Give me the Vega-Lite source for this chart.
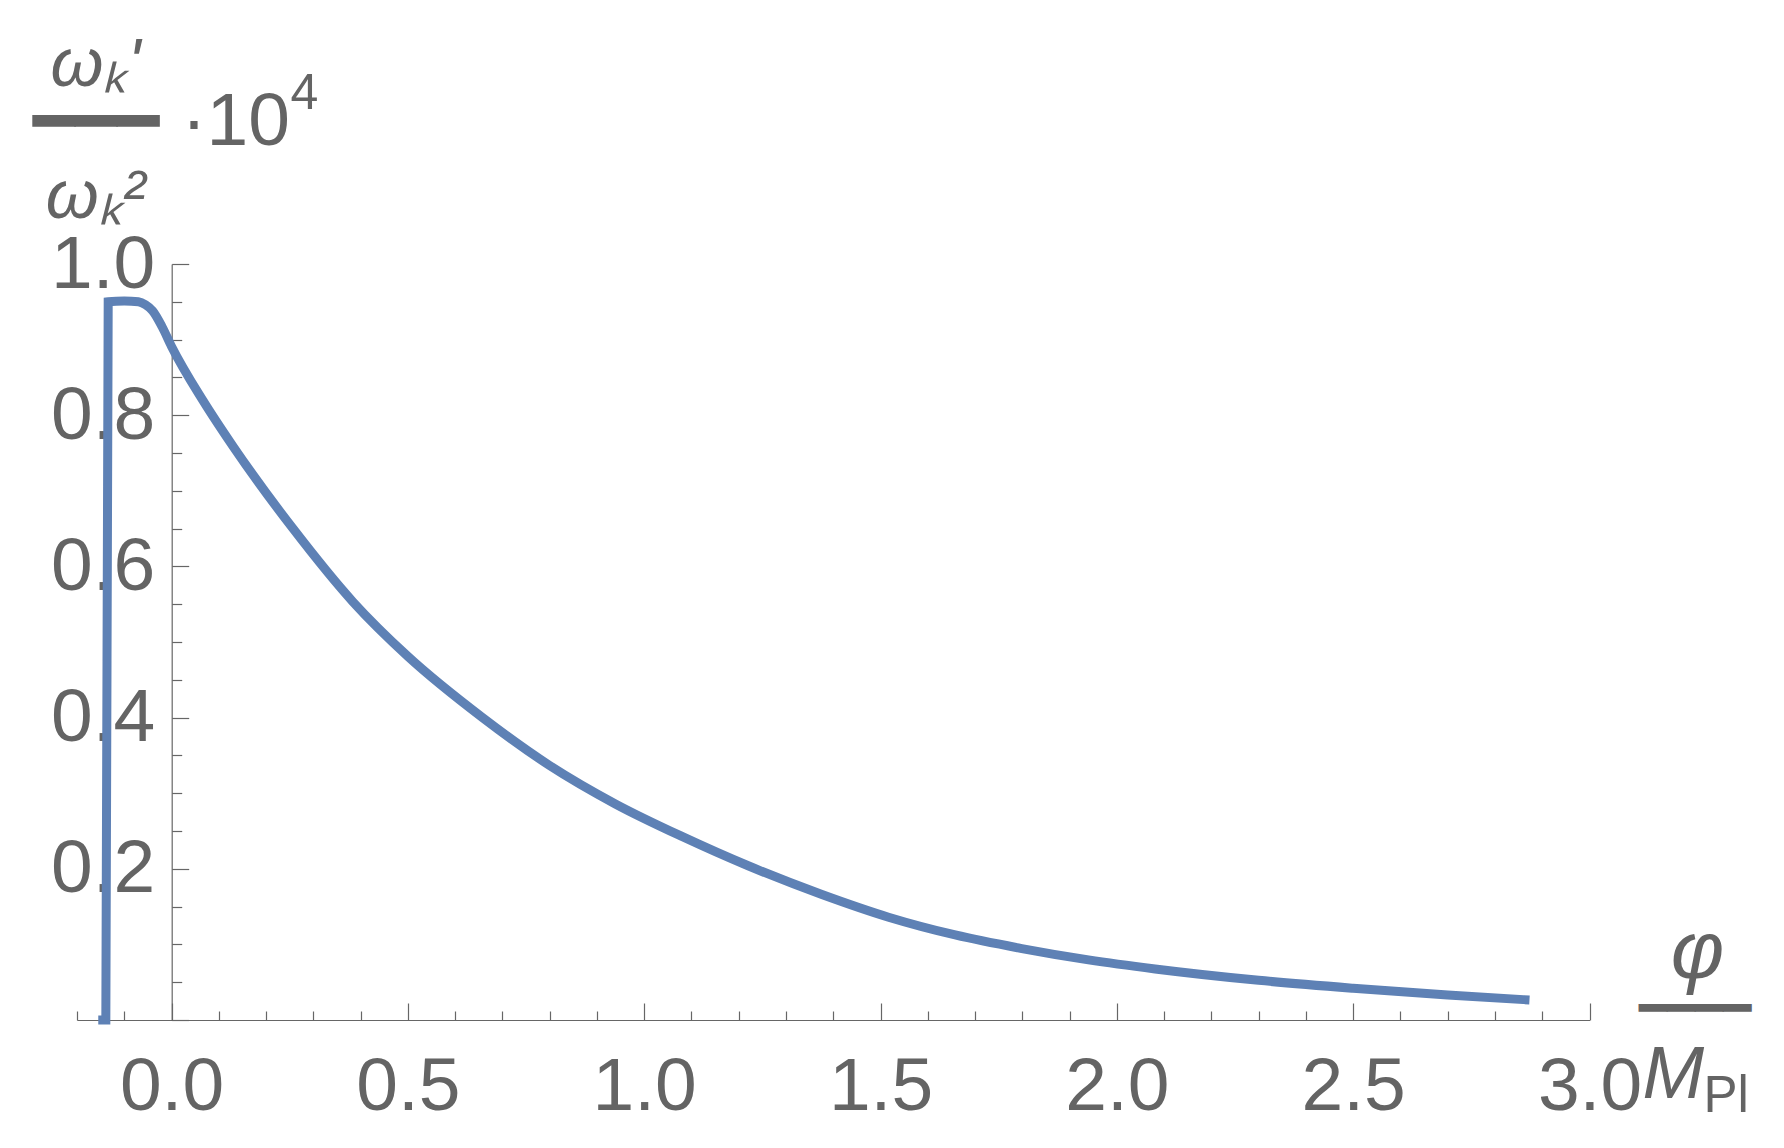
{
  "$schema": "https://vega.github.io/schema/vega-lite/v6.json",
  "width": 1512.5,
  "height": 756,
  "autosize": {"type": "none"},
  "padding": {"left": 77, "top": 264, "right": 194.5, "bottom": 128},
  "background": "white",
  "data": {
    "values": [
      {"phi": -0.155, "w": 0.0},
      {"phi": -0.139, "w": 0.0},
      {"phi": -0.134, "w": 0.95},
      {"phi": -0.1, "w": 0.951},
      {"phi": -0.07, "w": 0.95},
      {"phi": -0.055, "w": 0.946},
      {"phi": -0.04, "w": 0.938},
      {"phi": -0.02, "w": 0.917},
      {"phi": 0.0, "w": 0.891},
      {"phi": 0.067, "w": 0.819},
      {"phi": 0.13, "w": 0.759},
      {"phi": 0.257, "w": 0.65},
      {"phi": 0.384, "w": 0.553},
      {"phi": 0.5, "w": 0.481},
      {"phi": 0.658, "w": 0.4},
      {"phi": 0.799, "w": 0.337},
      {"phi": 0.94, "w": 0.2855},
      {"phi": 1.081, "w": 0.2425},
      {"phi": 1.22, "w": 0.204},
      {"phi": 1.376, "w": 0.166},
      {"phi": 1.517, "w": 0.136},
      {"phi": 1.658, "w": 0.1125},
      {"phi": 1.799, "w": 0.0945},
      {"phi": 1.94, "w": 0.0795},
      {"phi": 2.081, "w": 0.0675},
      {"phi": 2.3, "w": 0.0525},
      {"phi": 2.5, "w": 0.042},
      {"phi": 2.7, "w": 0.033},
      {"phi": 2.873, "w": 0.0265}
    ]
  },
  "layer": [
    {
      "mark": {"type": "line", "color": "#5E81B5", "strokeWidth": 9, "clip": false, "interpolate": "monotone"},
      "encoding": {
        "x": {
          "field": "phi",
          "type": "quantitative",
          "scale": {"domain": [-0.2, 3.0], "nice": false, "zero": false},
          "axis": {
            "orient": "bottom",
            "values": [-0.2, -0.1, 0, 0.1, 0.2, 0.3, 0.4, 0.5, 0.6, 0.7, 0.8, 0.9, 1.0, 1.1, 1.2, 1.3, 1.4, 1.5, 1.6, 1.7, 1.8, 1.9, 2.0, 2.1, 2.2, 2.3, 2.4, 2.5, 2.6, 2.7, 2.8, 2.9, 3.0],
            "grid": false,
            "domainColor": "#666666",
            "domainWidth": 1.2,
            "tickColor": "#666666",
            "tickWidth": 1.2,
            "tickSize": {"condition": {"test": "abs(datum.value*2 - round(datum.value*2)) < 0.001", "value": -17}, "value": -9},
            "labelExpr": "abs(datum.value*2 - round(datum.value*2)) < 0.001 ? format(datum.value, '.1f') : ''",
            "labelFont": "Liberation Sans",
            "labelFontSize": 75,
            "labelColor": "#646464",
            "labelPadding": 47,
            "labelFlush": false,
            "labelOverlap": false,
            "labelBound": false,
            "title": "━━━━",
            "titleFont": "Liberation Sans",
            "titleFontStyle": "normal",
            "titleFontWeight": "normal",
            "titleFontSize": 47,
            "titleColor": "#646464",
            "titleAlign": "left",
            "titleBaseline": "alphabetic",
            "titleAngle": 0,
            "titleX": 1561,
            "titleY": 3.5
          }
        },
        "y": {
          "field": "w",
          "type": "quantitative",
          "scale": {"domain": [0, 1.0], "nice": false, "zero": false},
          "axis": {
            "orient": "left",
            "offset": -94.7,
            "values": [0, 0.05, 0.1, 0.15, 0.2, 0.25, 0.3, 0.35, 0.4, 0.45, 0.5, 0.55, 0.6, 0.65, 0.7, 0.75, 0.8, 0.85, 0.9, 0.95, 1.0],
            "grid": false,
            "domainColor": "#666666",
            "domainWidth": 1.2,
            "tickColor": "#666666",
            "tickWidth": 1.2,
            "tickSize": {"condition": {"test": "abs(datum.value*5 - round(datum.value*5)) < 0.001", "value": -17}, "value": -10},
            "labelExpr": "datum.value > 0.01 && abs(datum.value*5 - round(datum.value*5)) < 0.001 ? format(datum.value, '.1f') : ''",
            "labelFont": "Liberation Sans",
            "labelFontSize": 75,
            "labelColor": "#646464",
            "labelPadding": 34,
            "labelFlush": false,
            "labelOverlap": false,
            "labelBound": false,
            "title": ["ωₖ'", "ωₖ²"],
            "titleFont": "Liberation Sans",
            "titleFontStyle": "italic",
            "titleFontWeight": "normal",
            "titleFontSize": 68,
            "titleColor": "#646464",
            "titleAlign": "center",
            "titleBaseline": "alphabetic",
            "titleLineHeight": 132,
            "titleAngle": 0,
            "titleX": -76.7,
            "titleY": -179
          }
        }
      }
    },
    {
      "mark": {"type": "point", "opacity": 0},
      "encoding": {
        "x": {
          "field": "phi",
          "type": "quantitative",
          "axis": {
            "orient": "bottom",
            "grid": false,
            "domain": false,
            "ticks": false,
            "labels": false,
            "title": "M",
            "titleFont": "Liberation Sans",
            "titleFontStyle": "italic",
            "titleFontWeight": "normal",
            "titleFontSize": 74,
            "titleColor": "#646464",
            "titleAlign": "left",
            "titleBaseline": "alphabetic",
            "titleAngle": 0,
            "titleX": 1565,
            "titleY": 77
          }
        },
        "y": {
          "field": "w",
          "type": "quantitative",
          "axis": {
            "orient": "left",
            "grid": false,
            "domain": false,
            "ticks": false,
            "labels": false,
            "title": "━━━",
            "titleFont": "Liberation Sans",
            "titleFontStyle": "normal",
            "titleFontWeight": "normal",
            "titleFontSize": 70,
            "titleColor": "#646464",
            "titleAlign": "left",
            "titleBaseline": "alphabetic",
            "titleAngle": 0,
            "titleX": -45,
            "titleY": -119.4
          }
        }
      }
    },
    {
      "mark": {"type": "point", "opacity": 0},
      "encoding": {
        "x": {
          "field": "phi",
          "type": "quantitative",
          "axis": {
            "orient": "bottom",
            "grid": false,
            "domain": false,
            "ticks": false,
            "labels": false,
            "title": "Pl",
            "titleFont": "Liberation Sans",
            "titleFontStyle": "normal",
            "titleFontWeight": "normal",
            "titleFontSize": 51,
            "titleColor": "#646464",
            "titleAlign": "left",
            "titleBaseline": "alphabetic",
            "titleAngle": 0,
            "titleX": 1626,
            "titleY": 91
          }
        },
        "y": {
          "field": "w",
          "type": "quantitative",
          "axis": {
            "orient": "left",
            "grid": false,
            "domain": false,
            "ticks": false,
            "labels": false,
            "title": "·10",
            "titleFont": "Liberation Sans",
            "titleFontStyle": "normal",
            "titleFontWeight": "normal",
            "titleFontSize": 75,
            "titleColor": "#646464",
            "titleAlign": "left",
            "titleBaseline": "alphabetic",
            "titleAngle": 0,
            "titleX": 104,
            "titleY": -120
          }
        }
      }
    },
    {
      "mark": {"type": "point", "opacity": 0},
      "encoding": {
        "x": {
          "field": "phi",
          "type": "quantitative",
          "axis": {
            "orient": "bottom",
            "grid": false,
            "domain": false,
            "ticks": false,
            "labels": false,
            "title": "φ",
            "titleFont": "Liberation Sans",
            "titleFontStyle": "italic",
            "titleFontWeight": "normal",
            "titleFontSize": 82,
            "titleColor": "#646464",
            "titleAlign": "center",
            "titleBaseline": "alphabetic",
            "titleAngle": 0,
            "titleX": 1620,
            "titleY": -43
          }
        },
        "y": {
          "field": "w",
          "type": "quantitative",
          "axis": {
            "orient": "left",
            "grid": false,
            "domain": false,
            "ticks": false,
            "labels": false,
            "title": "4",
            "titleFont": "Liberation Sans",
            "titleFontStyle": "normal",
            "titleFontWeight": "normal",
            "titleFontSize": 50,
            "titleColor": "#646464",
            "titleAlign": "left",
            "titleBaseline": "alphabetic",
            "titleAngle": 0,
            "titleX": 213,
            "titleY": -156
          }
        }
      }
    }
  ],
  "resolve": {"axis": {"x": "independent", "y": "independent"}},
  "config": {"view": {"stroke": null}, "axis": {"grid": false}}
}
